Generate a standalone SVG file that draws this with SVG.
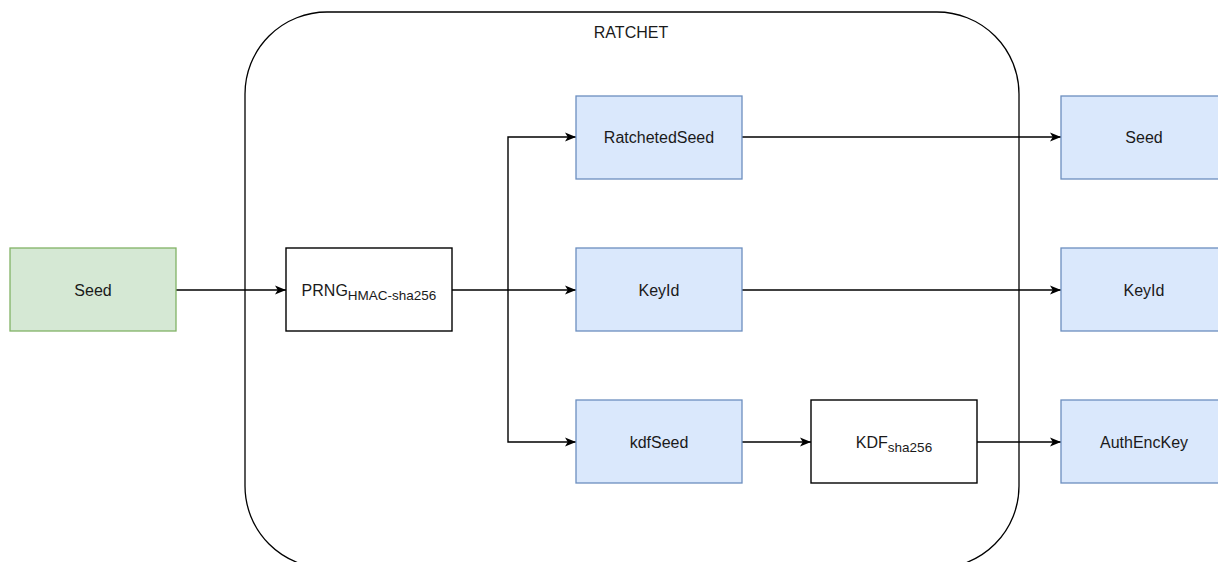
<svg xmlns="http://www.w3.org/2000/svg" width="1218" height="562" viewBox="0 0 1218 562">
  <style>
    .lbl { font-family: "Liberation Sans", Arial, sans-serif; font-size: 16px; fill: #1a1a1a; text-anchor: middle; dominant-baseline: central; }
    .sub { font-size: 13.5px; }
    .green { fill: #d5e8d4; stroke: #82b366; stroke-width: 1.3; }
    .blue { fill: #dae8fc; stroke: #6c8ebf; stroke-width: 1.3; }
    .plain { fill: #ffffff; stroke: #000000; stroke-width: 1.4; }
    .edge { fill: none; stroke: #000000; stroke-width: 1.4; }
  </style>
  <defs>
    <marker id="arrow" viewBox="0 0 10 10" refX="10" refY="5" markerWidth="11" markerHeight="11" markerUnits="userSpaceOnUse" orient="auto">
      <path d="M0,1 L10,5 L0,9 L2.5,5 Z" fill="#000000"/>
    </marker>
  </defs>

  <rect width="1218" height="562" fill="#ffffff"/>

  <!-- RATCHET container -->
  <g id="ratchet">
    <rect x="245" y="12" width="774" height="556" rx="82" ry="82" fill="none" stroke="#000000" stroke-width="1.3"/>
    <text class="lbl" x="631" y="32">RATCHET</text>
  </g>

  <!-- connectors -->
  <g id="connectors">
    <path class="edge" d="M176,290 L286,290" marker-end="url(#arrow)"/>
    <path class="edge" d="M452,290 L576,290" marker-end="url(#arrow)"/>
    <path class="edge" d="M508,290 L508,137 L576,137" marker-end="url(#arrow)"/>
    <path class="edge" d="M508,290 L508,442 L576,442" marker-end="url(#arrow)"/>
    <path class="edge" d="M742,137 L1061,137" marker-end="url(#arrow)"/>
    <path class="edge" d="M742,290 L1061,290" marker-end="url(#arrow)"/>
    <path class="edge" d="M742,442 L811,442" marker-end="url(#arrow)"/>
    <path class="edge" d="M977,442 L1061,442" marker-end="url(#arrow)"/>
  </g>

  <!-- input seed -->
  <g id="seed-in">
    <rect class="green" x="10" y="248" width="166" height="83"/>
    <text class="lbl" x="93" y="290">Seed</text>
  </g>

  <g id="prng">
    <rect class="plain" x="286" y="248" width="166" height="83"/>
    <text class="lbl" x="369" y="290">PRNG<tspan class="sub" dy="5">HMAC-sha256</tspan></text>
  </g>

  <g id="ratcheted-seed">
    <rect class="blue" x="576" y="96" width="166" height="83"/>
    <text class="lbl" x="659" y="137">RatchetedSeed</text>
  </g>

  <g id="keyid-inner">
    <rect class="blue" x="576" y="248" width="166" height="83"/>
    <text class="lbl" x="659" y="290">KeyId</text>
  </g>

  <g id="kdf-seed">
    <rect class="blue" x="576" y="400" width="166" height="83"/>
    <text class="lbl" x="659" y="442">kdfSeed</text>
  </g>

  <g id="kdf">
    <rect class="plain" x="811" y="400" width="166" height="83"/>
    <text class="lbl" x="894" y="442">KDF<tspan class="sub" dy="5">sha256</tspan></text>
  </g>

  <!-- outputs -->
  <g id="seed-out">
    <rect class="blue" x="1061" y="96" width="166" height="83"/>
    <text class="lbl" x="1144" y="137">Seed</text>
  </g>

  <g id="keyid-out">
    <rect class="blue" x="1061" y="248" width="166" height="83"/>
    <text class="lbl" x="1144" y="290">KeyId</text>
  </g>

  <g id="auth-enc-key">
    <rect class="blue" x="1061" y="400" width="166" height="83"/>
    <text class="lbl" x="1144" y="442">AuthEncKey</text>
  </g>
</svg>
